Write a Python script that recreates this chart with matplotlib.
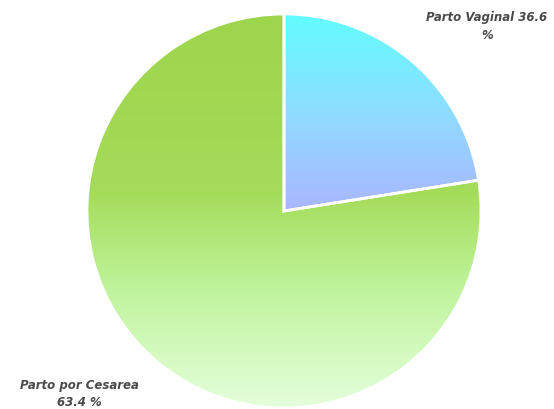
import numpy as np
import matplotlib
matplotlib.use("Agg")
import matplotlib.pyplot as plt
from matplotlib.colors import LinearSegmentedColormap

# data
labels = ["Parto Vaginal", "Parto por Cesarea"]
label_pct = [36.6, 63.4]          # percentages written in the labels
slice_share = [22.5, 77.5]        # angular share of each slice as drawn

W, H = 554, 409
cx, cy, r = 284, 409 - 211, 197

fig = plt.figure(figsize=(W / 100, H / 100), dpi=100)
ax = fig.add_axes([0, 0, 1, 1])

wedges, _ = ax.pie(slice_share, startangle=90, counterclock=False,
                   radius=r, center=(cx, cy),
                   wedgeprops=dict(facecolor="none", edgecolor="white", linewidth=2))

# vertical gradient fills, clipped to each wedge
grads = [
    LinearSegmentedColormap.from_list("blu", [(0, "#aab6ff"), (0.5, "#8fdcff"), (1, "#62fdff")]),
    LinearSegmentedColormap.from_list("grn", [(0, "#e4ffdc"), (0.3, "#c0f49c"),
                                              (0.55, "#a4dc5a"), (1, "#9dd54c")]),
]
for w, cm in zip(wedges, grads):
    bb = w.get_path().get_extents(w.get_transform() + ax.transData.inverted())
    g = np.linspace(0, 1, 256).reshape(-1, 1)
    im = ax.imshow(g, cmap=cm, origin="lower", aspect="auto",
                   extent=(bb.x0, bb.x1, bb.y0, bb.y1), zorder=1)
    im.set_clip_path(w)
    w.set_zorder(2)

ax.set_xlim(0, W)
ax.set_ylim(0, H)
ax.set_aspect("equal")
ax.axis("off")

txt = dict(fontsize=8.5, fontweight="bold", fontstyle="italic", color="#4a4a4a",
           ha="center", va="center", linespacing=1.45)
ax.text(487, H - 26.5, f"{labels[0]} {label_pct[0]}\n%", **txt)
ax.text(79, H - 394, f"{labels[1]}\n{label_pct[1]} %", **txt)

fig.savefig("out.png", dpi=100)
